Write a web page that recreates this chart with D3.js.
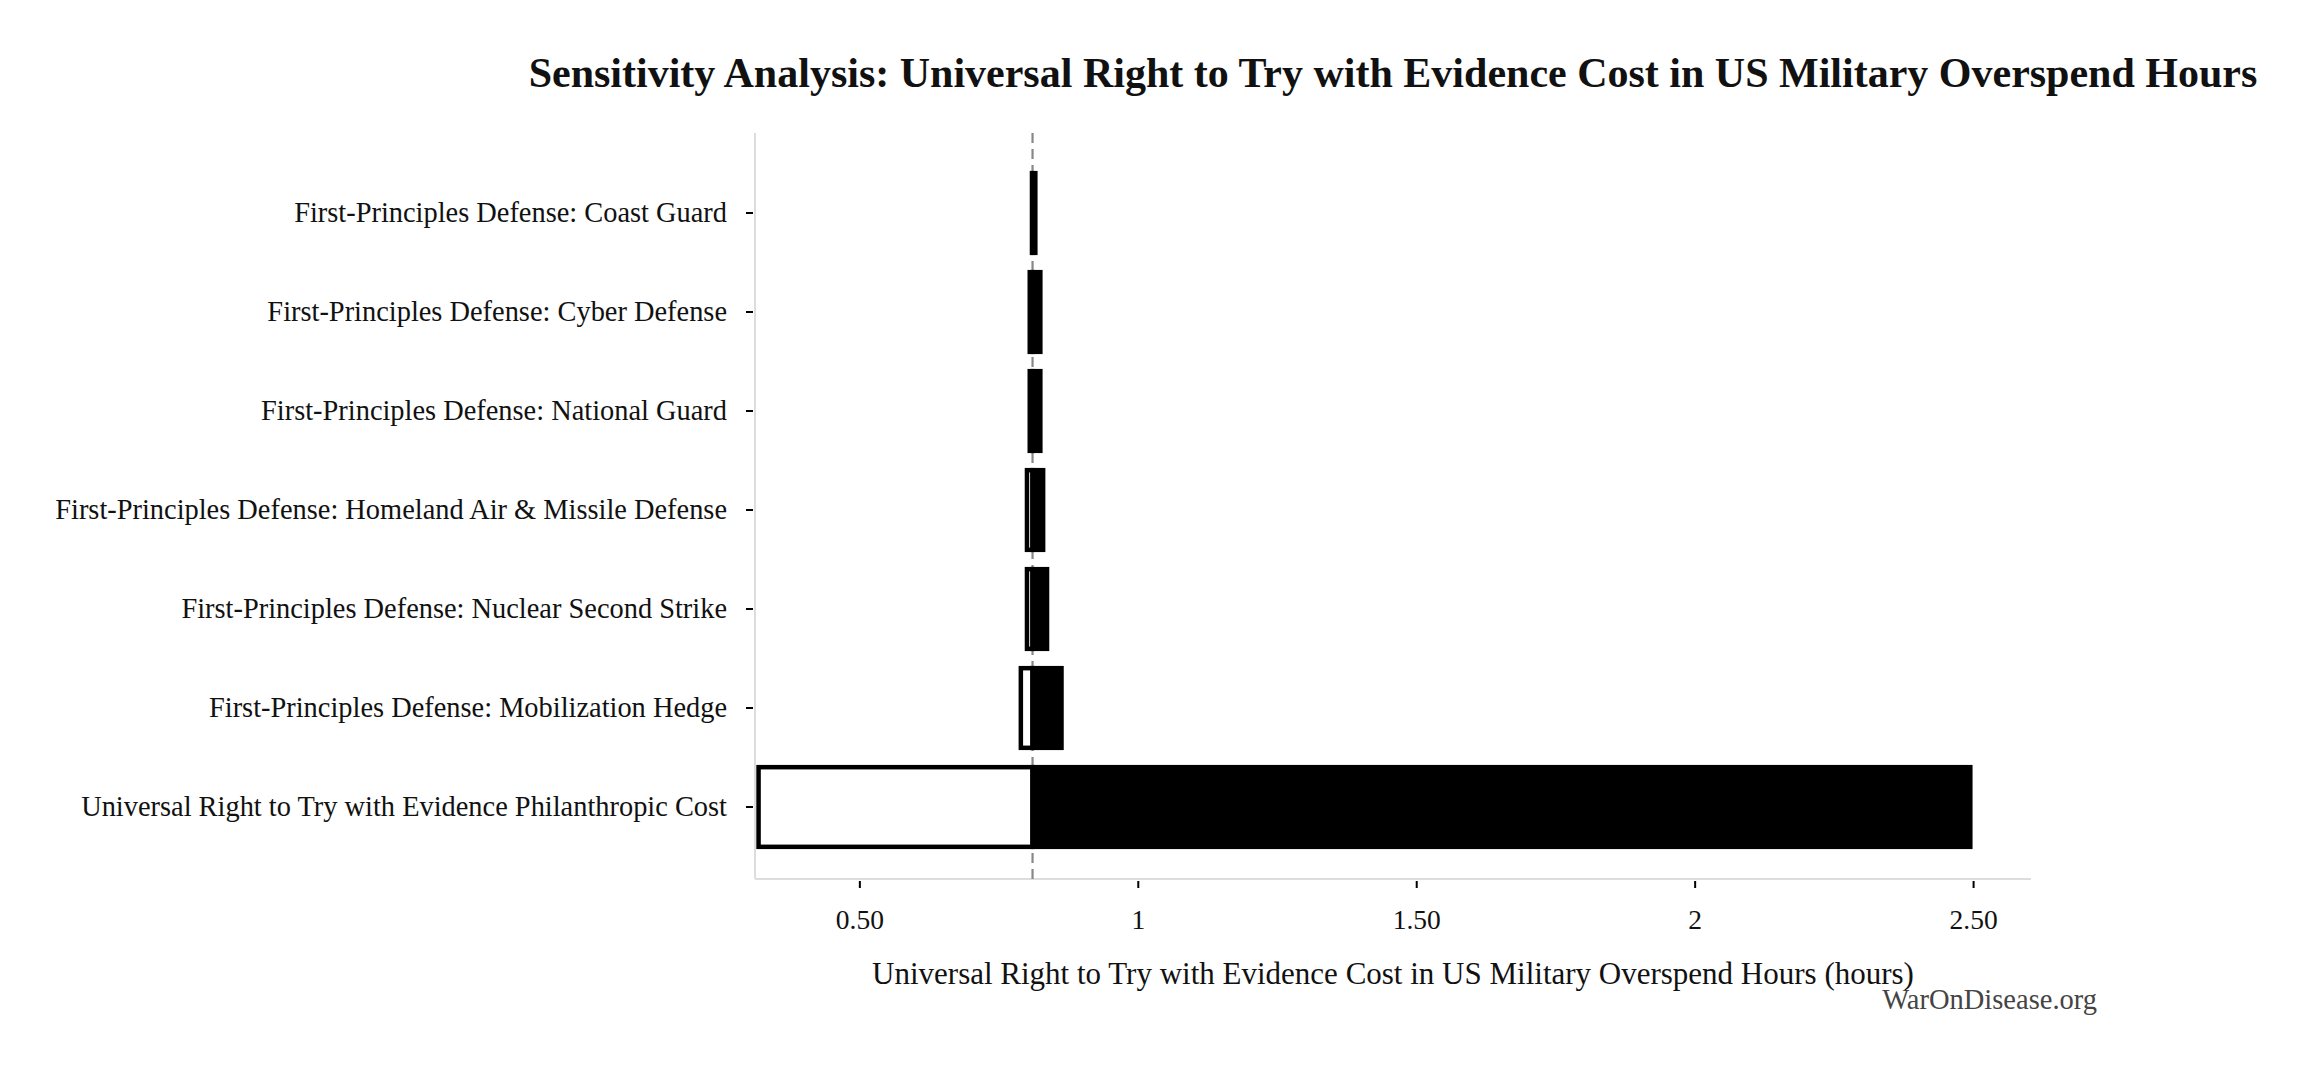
<!DOCTYPE html>
<html>
<head>
<meta charset="utf-8">
<script src="https://cdn.jsdelivr.net/npm/d3@7"></script>
<style>
  body { margin: 0; background: #fff; }
  svg { display: block; }
  text { font-family: "Liberation Serif", "DejaVu Serif", serif; fill: #111; }
</style>
</head>
<body>
<div id="chart"></div>
<script>
// Các tham số độ nhạy (từ trên xuống dưới)
const categories = [
  "First-Principles Defense: Coast Guard",
  "First-Principles Defense: Cyber Defense",
  "First-Principles Defense: National Guard",
  "First-Principles Defense: Homeland Air & Missile Defense",
  "First-Principles Defense: Nuclear Second Strike",
  "First-Principles Defense: Mobilization Hedge",
  "Universal Right to Try with Evidence Philanthropic Cost"
];
const lowValues = [0.810, 0.806, 0.806, 0.801, 0.801, 0.790, 0.319];
const highValues = [0.816, 0.825, 0.825, 0.830, 0.837, 0.863, 2.495];
const baseValue = 0.811;
const xTickValues = [0.5, 1, 1.5, 2, 2.5];
const xTickLabels = ["0.50", "1", "1.50", "2", "2.50"];

const data = categories.map((c, i) => ({ name: c, low: lowValues[i], high: highValues[i] }));

const W = 2316, H = 1071;
const plotLeft = 755, plotRight = 2031, plotTop = 133, plotBottom = 879;
const strokeW = 4.5;

const svg = d3.select("#chart")
  .append("svg")
  .attr("width", W)
  .attr("height", H);

const x = d3.scaleLinear()
  .domain([0.3126, 2.604])
  .range([plotLeft, plotRight]);

const y = d3.scaleBand()
  .domain(categories)
  .range([163.5, 856.5])
  .paddingInner(0.15)
  .paddingOuter(0.075);

// title
svg.append("text")
  .attr("x", (plotLeft + plotRight) / 2)
  .attr("y", 87)
  .attr("text-anchor", "middle")
  .style("font-size", "42px")
  .style("font-weight", "bold")
  .text("Sensitivity Analysis: Universal Right to Try with Evidence Cost in US Military Overspend Hours");

// spines
svg.append("line")
  .attr("x1", plotLeft).attr("x2", plotLeft)
  .attr("y1", plotTop).attr("y2", plotBottom)
  .attr("stroke", "#dddddd").attr("stroke-width", 2);
svg.append("line")
  .attr("x1", plotLeft).attr("x2", plotRight)
  .attr("y1", plotBottom).attr("y2", plotBottom)
  .attr("stroke", "#dddddd").attr("stroke-width", 2);

// đường cơ sở
svg.append("line")
  .attr("x1", x(baseValue)).attr("x2", x(baseValue))
  .attr("y1", plotTop).attr("y2", plotBottom)
  .attr("stroke", "#888").attr("stroke-width", 2.2)
  .attr("stroke-dasharray", "10,6");

// thanh thấp (trắng, viền đen)
svg.selectAll(".bar-low")
  .data(data)
  .enter()
  .append("rect")
  .attr("class", "bar-low")
  .attr("x", d => x(Math.min(d.low, baseValue)))
  .attr("y", d => y(d.name) + strokeW / 2)
  .attr("width", d => Math.abs(x(baseValue) - x(d.low)))
  .attr("height", y.bandwidth() - strokeW)
  .attr("fill", "#fff")
  .attr("stroke", "#000")
  .attr("stroke-width", strokeW);

// thanh cao (đen)
svg.selectAll(".bar-high")
  .data(data)
  .enter()
  .append("rect")
  .attr("class", "bar-high")
  .attr("x", x(baseValue))
  .attr("y", d => y(d.name) + strokeW / 2)
  .attr("width", d => x(d.high) - x(baseValue))
  .attr("height", y.bandwidth() - strokeW)
  .attr("fill", "#000")
  .attr("stroke", "#000")
  .attr("stroke-width", strokeW);

// x axis
const xAxis = svg.append("g")
  .attr("transform", "translate(0," + plotBottom + ")")
  .call(d3.axisBottom(x)
    .tickValues(xTickValues)
    .tickFormat((d, i) => xTickLabels[i])
    .tickSizeOuter(0));
xAxis.select(".domain").remove();
xAxis.selectAll(".tick line")
  .attr("y1", 2).attr("y2", 9)
  .attr("stroke", "#000").attr("stroke-width", 2);
xAxis.selectAll(".tick text")
  .attr("y", 50)
  .attr("dy", 0)
  .style("font-size", "27.5px")
  .style("font-family", "'Liberation Serif', serif")
  .attr("fill", "#111");

// y axis
const yAxis = svg.append("g")
  .attr("transform", "translate(" + plotLeft + ",0)")
  .call(d3.axisLeft(y).tickSizeOuter(0));
yAxis.select(".domain").remove();
yAxis.selectAll(".tick line")
  .attr("x1", -2).attr("x2", -9)
  .attr("stroke", "#000").attr("stroke-width", 2);
yAxis.selectAll(".tick text")
  .attr("x", -28)
  .attr("dy", "0.32em")
  .style("font-size", "28.4px")
  .style("font-family", "'Liberation Serif', serif")
  .attr("fill", "#111");

// axis title
svg.append("text")
  .attr("x", (plotLeft + plotRight) / 2)
  .attr("y", 984)
  .attr("text-anchor", "middle")
  .style("font-size", "31px")
  .text("Universal Right to Try with Evidence Cost in US Military Overspend Hours (hours)");

// watermark
svg.append("text")
  .attr("x", 2097)
  .attr("y", 1009)
  .attr("text-anchor", "end")
  .style("font-size", "28.5px")
  .style("fill", "#444")
  .text("WarOnDisease.org");
</script>
</body>
</html>
